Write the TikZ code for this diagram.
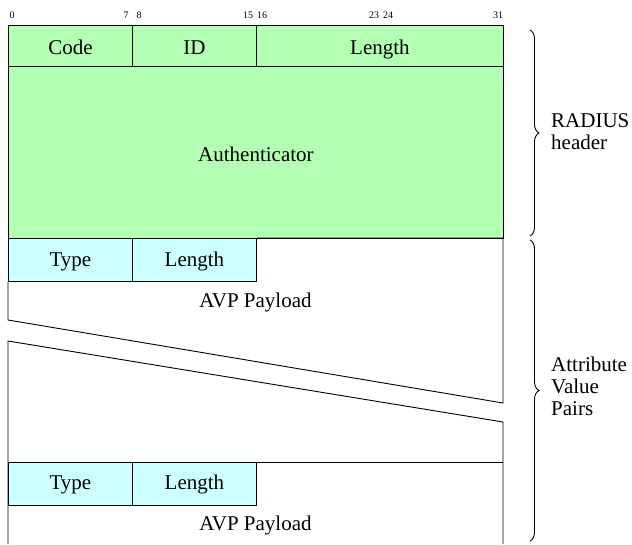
\documentclass[tikz,border=0pt]{standalone}
\usepackage{fontspec}
\setmainfont{Liberation Serif}
\usetikzlibrary{decorations.pathreplacing}
\definecolor{hdrgreen}{HTML}{B3FFB3}
\definecolor{avpcyan}{HTML}{CCFFFF}
\begin{document}
\begin{tikzpicture}[x=1pt,y=-1pt,
  field/.style={draw=black,line width=0.9pt,inner sep=0pt,anchor=north west},
  hdr/.style={field,fill=hdrgreen},
  avp/.style={field,fill=avpcyan},
  lbl/.style={font=\fontsize{21}{24}\selectfont,inner sep=0pt,anchor=base},
  bitno/.style={font=\fontsize{10}{11}\selectfont,anchor=base},
  edge/.style={line width=0.9pt},
  brc/.style={decorate,decoration={brace,amplitude=9pt},line width=0.9pt},
  side/.style={font=\fontsize{21}{22}\selectfont,align=left,anchor=west,inner sep=0pt}]
\useasboundingbox (0,0) rectangle (632,544);

% bit positions
\foreach \b/\x in {0/12,7/126,8/139,15/248,16/262,23/374,24/388,31/498}
  \node[bitno] (bit\b) at (\x,18) {\b};

% RADIUS header
\node[hdr,minimum width=124pt,minimum height=41pt] (code) at (8,25) {};
\node[hdr,minimum width=124pt,minimum height=41pt] (id) at (132,25) {};
\node[hdr,minimum width=247pt,minimum height=41pt] (len) at (256,25) {};
\node[hdr,minimum width=495pt,minimum height=172pt] (auth) at (8,66) {};
\node[lbl] at (code.center |- 0,54) {Code};
\node[lbl] at (id.center |- 0,54) {ID};
\node[lbl] at (len.center |- 0,54) {Length};
\node[lbl] at (auth.center |- 0,161) {Authenticator};

% first attribute
\node[avp,minimum width=124pt,minimum height=43pt] (type1) at (8,238) {};
\node[avp,minimum width=124pt,minimum height=43pt] (alen1) at (132,238) {};
\node[lbl] at (type1.center |- 0,266) {Type};
\node[lbl] at (alen1.center |- 0,266) {Length};
\node[lbl] (pay1) at (255.5,307) {AVP Payload};

% outline of the attribute area with the cut
\coordinate (cutLa) at (8,320);
\coordinate (cutRa) at (503,403);
\coordinate (cutLb) at (8,341);
\coordinate (cutRb) at (503,422);
\draw[edge] (alen1.north east) -- (503,238) -- (cutRa) -- (cutLa) -- (type1.south west);
\draw[edge] (503,544) -- (cutRb) -- (cutLb) -- (8,544);

% last attribute
\node[avp,minimum width=124pt,minimum height=43pt] (type2) at (8,462) {};
\node[avp,minimum width=124pt,minimum height=43pt] (alen2) at (132,462) {};
\node[lbl] at (type2.center |- 0,489) {Type};
\node[lbl] at (alen2.center |- 0,489) {Length};
\node[lbl] (pay2) at (255.5,530) {AVP Payload};
\draw[edge] (alen2.north east) -- (503,462);

% braces and their labels
\coordinate (b1t) at (530,30);
\coordinate (b1b) at (530,236);
\coordinate (b2t) at (530,240);
\coordinate (b2b) at (530,541);
\draw[brc] (b1t) -- (b1b);
\draw[brc] (b2t) -- (b2b);
\node[side] (rad) at (551,132) {RADIUS\\header};
\node[side] (attr) at (551,386) {Attribute\\Value\\Pairs};
\end{tikzpicture}
\end{document}
